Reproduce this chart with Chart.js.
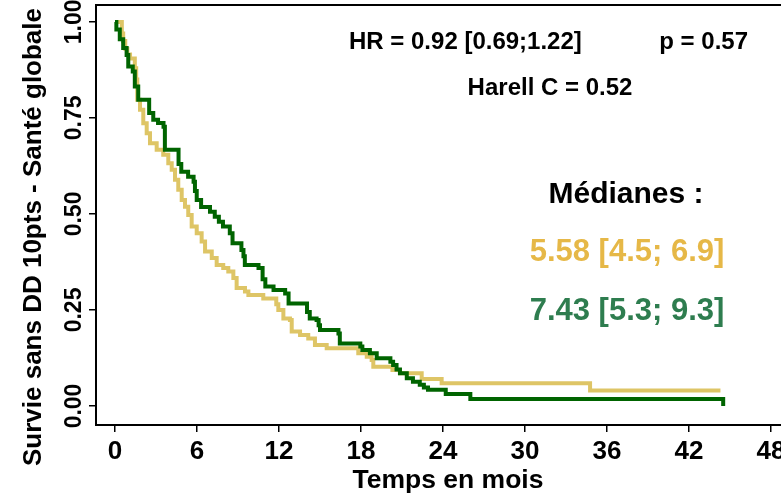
<!DOCTYPE html>
<html>
<head>
<meta charset="utf-8">
<script src="https://cdn.jsdelivr.net/npm/chart.js@4.4.0/dist/chart.umd.min.js"></script>
<style>
  html, body { margin: 0; padding: 0; background: #fff; }
</style>
</head>
<body>
<canvas id="km" width="781" height="496"></canvas>
<script>
// axis ticks
const xTicks = [0, 6, 12, 18, 24, 30, 36, 42, 48];
const yTicks = [0, 0.25, 0.5, 0.75, 1];

// group 1 (yellow) - time of each step (months) and survival after it
const yellowTimes = [0, 0.5, 0.6, 0.75, 0.9, 1.1, 1.45, 1.55, 1.63, 1.83, 2.07, 2.32, 2.56, 3.05, 3.53, 3.9, 4.15, 4.39, 4.63, 4.88, 5.12, 5.36, 5.61, 5.98, 6.34, 6.59, 7.08, 7.44, 7.92, 8.29, 8.66, 8.9, 9.51, 9.76, 10.85, 11.8, 11.95, 12.32, 12.8, 12.93, 13.54, 14.14, 14.63, 15.49, 17.8, 18.42, 18.78, 18.9, 20.3, 20.85, 22.44, 23.9, 34.76, 44.3];
const yellowSurv  = [1, 0.97, 0.95, 0.93, 0.915, 0.905, 0.879, 0.85, 0.797, 0.771, 0.736, 0.71, 0.684, 0.667, 0.654, 0.632, 0.615, 0.589, 0.563, 0.536, 0.519, 0.497, 0.467, 0.45, 0.428, 0.402, 0.385, 0.367, 0.359, 0.35, 0.333, 0.307, 0.298, 0.289, 0.28, 0.265, 0.25, 0.228, 0.224, 0.194, 0.185, 0.176, 0.159, 0.15, 0.137, 0.128, 0.12, 0.102, 0.094, 0.085, 0.07, 0.059, 0.04, 0.04];

// group 2 (green)
const greenTimes = [0, 0.1, 0.35, 0.6, 0.85, 0.97, 1.3, 1.45, 1.7, 2.5, 2.8, 3.15, 3.55, 3.65, 4.65, 4.85, 5.35, 5.75, 5.85, 5.98, 6.3, 6.95, 7.3, 7.6, 7.9, 8.4, 8.6, 9.25, 9.4, 9.5, 10.5, 10.8, 11.0, 11.6, 12.45, 12.7, 14.05, 14.25, 14.75, 14.9, 15.0, 16.35, 16.45, 17.95, 18.1, 18.65, 19.15, 20.15, 20.35, 20.6, 20.85, 21.35, 21.8, 22.3, 22.6, 22.9, 24.2, 26.0, 44.5];
const greenSurv  = [1, 0.98, 0.955, 0.932, 0.914, 0.884, 0.871, 0.832, 0.797, 0.763, 0.745, 0.737, 0.727, 0.667, 0.63, 0.61, 0.597, 0.584, 0.56, 0.536, 0.518, 0.506, 0.493, 0.48, 0.467, 0.45, 0.424, 0.406, 0.39, 0.367, 0.359, 0.33, 0.311, 0.302, 0.293, 0.267, 0.245, 0.228, 0.224, 0.21, 0.198, 0.189, 0.163, 0.155, 0.146, 0.137, 0.124, 0.115, 0.107, 0.095, 0.085, 0.072, 0.063, 0.055, 0.048, 0.042, 0.031, 0.018, 0];

const toPoints = (times, surv) => times.map((t, i) => ({ x: t, y: surv[i] }));

const SANS = "'Liberation Sans', Arial, sans-serif";
const boldFont = (size) => ({ family: SANS, weight: "bold", size: size });

// text written on the chart (annotations, axis titles) + top frame line
const annotations = {
    id: "annotations",
    afterDraw(chart) {
        const { ctx, chartArea } = chart;
        const write = (text, x, y, size, color, align, rotate) => {
            ctx.save();
            ctx.translate(x, y);
            if (rotate) ctx.rotate(-Math.PI / 2);
            ctx.font = `bold ${size}px ${SANS}`;
            ctx.fillStyle = color;
            ctx.textAlign = align || "left";
            ctx.textBaseline = "middle";
            ctx.fillText(text, 0, 0);
            ctx.restore();
        };
        write("HR = 0.92 [0.69;1.22]", 349, 42, 24, "#000");
        write("p = 0.57", 748, 42, 24, "#000", "right");
        write("Harell C = 0.52", 550, 88, 24, "#000", "center");
        write("Médianes :", 626, 195, 30, "#000", "center");
        write("5.58 [4.5; 6.9]", 627, 252, 31, "#E6B847", "center");
        write("7.43 [5.3; 9.3]", 627, 311, 31, "#2E7D4F", "center");

        // axis titles
        write("Survie sans DD 10pts - Santé globale", 34, 237, 26, "#000", "center", true);
        write("Temps en mois", 448, 481, 26.5, "#000", "center");

        // top frame line
        ctx.save();
        ctx.strokeStyle = "#000";
        ctx.lineWidth = 2;
        ctx.beginPath();
        ctx.moveTo(chartArea.left, chartArea.top);
        ctx.lineTo(chartArea.right, chartArea.top);
        ctx.stroke();
        ctx.restore();
    },
};

const ctx = document.getElementById("km").getContext("2d");

const myChart = new Chart(ctx, {
    type: "line",
    data: {
        datasets: [{
            label: "7.43 [5.3; 9.3]",
            data: toPoints(greenTimes, greenSurv),
            borderColor: "#006400",
            borderWidth: 4,
            stepped: "before",
            pointRadius: 0,
            fill: false,
        }, {
            label: "5.58 [4.5; 6.9]",
            data: toPoints(yellowTimes, yellowSurv),
            borderColor: "#DEC566",
            borderWidth: 4,
            stepped: "before",
            pointRadius: 0,
            fill: false,
        }],
    },
    options: {
        responsive: false,
        devicePixelRatio: 1,
        animation: false,
        layout: { padding: { top: 5, right: 0, left: 0, bottom: 0 } },
        plugins: {
            legend: { display: false },
            tooltip: { enabled: false },
        },
        scales: {
            x: {
                type: "linear",
                min: -1.39,
                max: 48.73,
                afterBuildTicks: (scale) => { scale.ticks = xTicks.map((v) => ({ value: v })); },
                afterFit: (scale) => { scale.height = 71; scale.paddingLeft = 0; scale.paddingRight = 0; },
                ticks: { color: "#000", font: boldFont(26), padding: 4, maxRotation: 0 },
                grid: { drawOnChartArea: false, drawTicks: true, tickLength: 7, color: "#000", lineWidth: 1.5 },
                border: { display: true, color: "#000", width: 2 },
                title: { display: false },
            },
            y: {
                min: -0.0495,
                max: 1.044,
                afterBuildTicks: (scale) => { scale.ticks = yTicks.map((v) => ({ value: v })); },
                afterFit: (scale) => { scale.width = 96; scale.paddingTop = 0; scale.paddingBottom = 0; },
                ticks: {
                    color: "#000",
                    font: boldFont(23),
                    padding: -8,
                    crossAlign: "center",
                    minRotation: 90,
                    maxRotation: 90,
                    callback: (v) => v.toFixed(2),
                },
                grid: { drawOnChartArea: false, drawTicks: true, tickLength: 7, color: "#000", lineWidth: 1.5 },
                border: { display: true, color: "#000", width: 2 },
                title: { display: false },
            },
        },
    },
    plugins: [annotations],
});
</script>
</body>
</html>
